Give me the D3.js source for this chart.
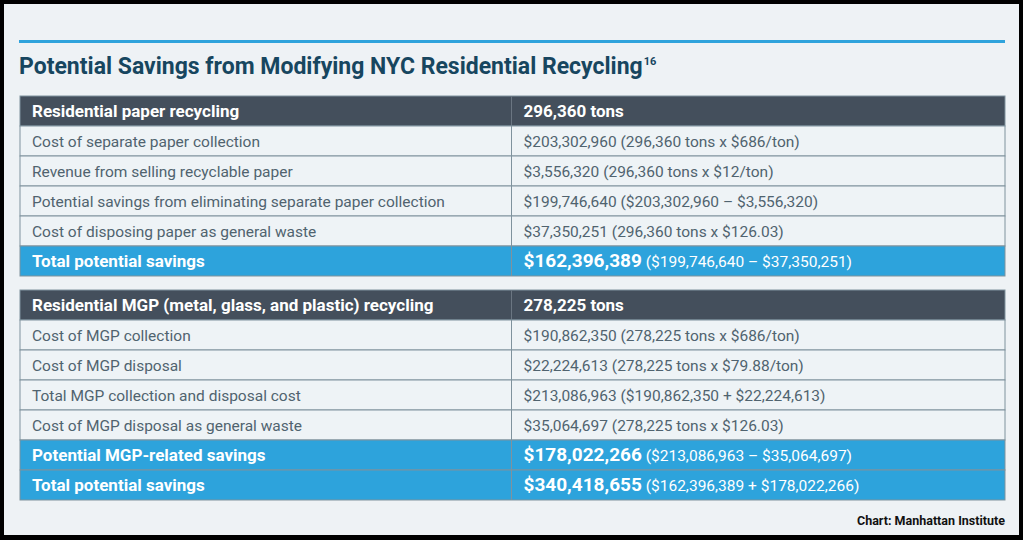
<!DOCTYPE html>
<html><head><meta charset="utf-8">
<script src="https://cdn.jsdelivr.net/npm/d3@7"></script>
<style>
body{margin:0;background:#000;}
svg text{font-family:"Liberation Sans Narrow","Roboto",sans-serif;}
</style></head>
<body>
<script>
// table content
var labels1 = ["Residential paper recycling","Cost of separate paper collection","Revenue from selling recyclable paper",
  "Potential savings from eliminating separate paper collection","Cost of disposing paper as general waste","Total potential savings"];
var bold1 = ["296,360 tons","","","","","$162,396,389"];
var values1 = ["","$203,302,960 (296,360 tons x $686/ton)","$3,556,320 (296,360 tons x $12/ton)",
  "$199,746,640 ($203,302,960 \u2013 $3,556,320)","$37,350,251 (296,360 tons x $126.03)"," ($199,746,640 \u2013 $37,350,251)"];
var kinds1 = ["head","row","row","row","row","total"];

var labels2 = ["Residential MGP (metal, glass, and plastic) recycling","Cost of MGP collection","Cost of MGP disposal",
  "Total MGP collection and disposal cost","Cost of MGP disposal as general waste","Potential MGP-related savings","Total potential savings"];
var bold2 = ["278,225 tons","","","","","$178,022,266","$340,418,655"];
var values2 = ["","$190,862,350 (278,225 tons x $686/ton)","$22,224,613 (278,225 tons x $79.88/ton)",
  "$213,086,963 ($190,862,350 + $22,224,613)","$35,064,697 (278,225 tons x $126.03)",
  " ($213,086,963 \u2013 $35,064,697)"," ($162,396,389 + $178,022,266)"];
var kinds2 = ["head","row","row","row","row","total","total"];

var W = 1023, H = 540;
var svg = d3.select("body").append("svg").attr("width", W).attr("height", H);
svg.append("rect").attr("width", W).attr("height", H).attr("fill", "#000");
svg.append("rect").attr("x", 4).attr("y", 4).attr("width", W - 8).attr("height", H - 9).attr("fill", "#eef2f5");
svg.append("rect").attr("x", 19).attr("y", 40).attr("width", 986).attr("height", 3).attr("fill", "#2fa3dc");

var title = svg.append("text").attr("x", 19).attr("y", 74).attr("fill", "#17465f")
  .attr("font-size", 23).attr("font-weight", "bold");
title.append("tspan").text("Potential Savings from Modifying NYC Residential Recycling");
title.append("tspan").attr("font-size", 11).attr("dy", -9).attr("dx", 1).text("16");

var x = d3.scaleLinear().domain([0, 1]).range([20, 1005]);
var split = 0.499;
var fills = {head: "#444f5c", row: "#eef3f6", total: "#2da3dc"};

function drawTable(y0, labels, bolds, values, kinds) {
  var y = d3.scaleBand().domain(d3.range(labels.length)).range([y0, y0 + 30 * labels.length]);
  var g = svg.append("g");
  var rows = g.selectAll("g").data(labels).enter().append("g")
    .attr("transform", function(d, i){ return "translate(0," + y(i) + ")"; });
  rows.append("rect").attr("x", x(0)).attr("width", x(1) - x(0)).attr("height", y.bandwidth())
    .attr("fill", function(d, i){ return fills[kinds[i]]; })
    .attr("stroke", "#7f929d").attr("stroke-width", 1);
  rows.append("line").attr("x1", x(split)).attr("x2", x(split)).attr("y1", 0).attr("y2", y.bandwidth())
    .attr("stroke", function(d, i){ return kinds[i] === "head" ? "#6b7682" : "#7f929d"; });
  rows.append("text").attr("x", x(0) + 12).attr("y", 21)
    .attr("font-size", function(d, i){ return kinds[i] === "row" ? 15.5 : 17; })
    .attr("font-weight", function(d, i){ return kinds[i] === "row" ? "normal" : "bold"; })
    .attr("fill", function(d, i){ return kinds[i] === "row" ? "#50636f" : "#fff"; })
    .text(function(d){ return d; });
  var t = rows.append("text").attr("x", x(split) + 12).attr("y", 21)
    .attr("fill", function(d, i){ return kinds[i] === "row" ? "#50636f" : "#fff"; });
  t.append("tspan").attr("font-weight", "bold")
    .attr("font-size", function(d, i){ return kinds[i] === "total" ? 19 : 17; })
    .text(function(d, i){ return bolds[i]; });
  t.append("tspan").attr("font-size", 15.5).text(function(d, i){ return values[i]; });
}
drawTable(96, labels1, bold1, values1, kinds1);
drawTable(290, labels2, bold2, values2, kinds2);

svg.append("text").attr("x", 1005).attr("y", 525).attr("text-anchor", "end")
  .attr("font-size", 12.5).attr("font-weight", "bold").attr("fill", "#111").text("Chart: Manhattan Institute");
</script>
</body></html>
